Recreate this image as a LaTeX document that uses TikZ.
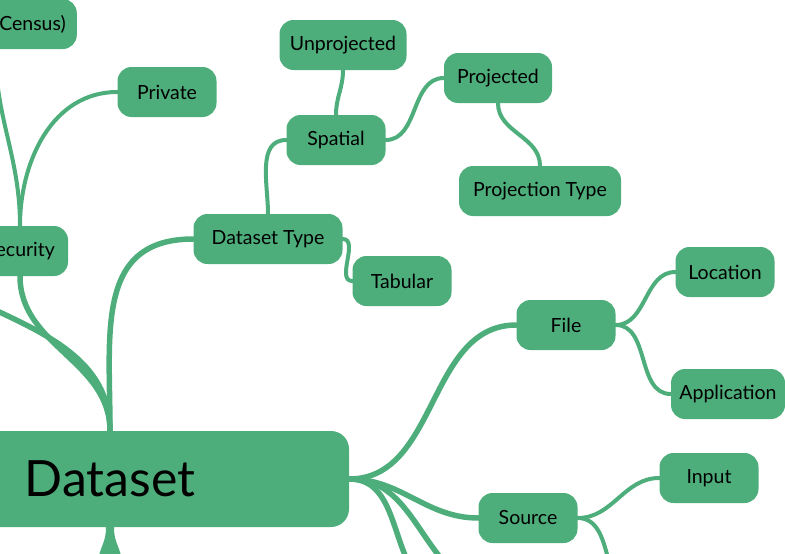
\documentclass[tikz,border=0pt]{standalone}
\usepackage{fontspec}
\setmainfont{Lato}
\usepackage{tikz}
\usetikzlibrary{backgrounds}
\definecolor{mmgreen}{HTML}{4EAE7B}

\begin{document}
\begin{tikzpicture}[
  x=1pt, y=1pt,
  topic/.style={fill=mmgreen, rounded corners=14pt, align=center, inner xsep=8pt,
    minimum width=99pt, minimum height=50pt, text=black, font=\fontsize{19.5}{23}\selectfont},
  root/.style={topic, rounded corners=18pt, minimum width=478pt, minimum height=96pt,
    font=\fontsize{50}{56}\selectfont},
  link/.style={draw=mmgreen, line width=4pt, line cap=round},
  trunk/.style={link, line width=5.5pt}]
\clip (0,0) rectangle (785,-554);
\useasboundingbox (0,0) rectangle (785,-554);
% root
\node[root] (dataset) at (110,-479) {Dataset};
% upper left branch
\node[topic, anchor=east, text width=141pt, align=right, inner xsep=11pt] (census) at (77,-24) {(Census)};
\node[topic] (private) at (167,-92) {Private};
\node[topic, minimum width=96pt] (security) at (20,-251) {Security};
% dataset type branch
\node[topic, minimum width=149pt] (dtype) at (268,-239) {Dataset Type};
\node[topic] (spatial) at (336,-140) {Spatial};
\node[topic, minimum width=127pt] (unproj) at (343,-45) {Unprojected};
\node[topic, minimum width=108pt] (proj) at (498,-78) {Projected};
\node[topic, minimum width=162pt] (projtype) at (540,-191) {Projection Type};
\node[topic] (tabular) at (402,-281) {Tabular};
% file and source branch
\node[topic] (file) at (566,-325) {File};
\node[topic] (location) at (725,-272) {Location};
\node[topic, minimum width=114pt, inner xsep=4pt] (application) at (728,-394) {Application};
\node[topic] (source) at (528,-518) {Source};
\node[topic] (input) at (709,-478) {Input};
% ends that run out of the picture
\coordinate (offleft) at (-20,-303);
\coordinate (below) at (110,-556);
\coordinate (offa) at (408,-562);
\coordinate (offb) at (444,-562);
\coordinate (offc) at (609,-562);
\begin{scope}[on background layer]
\draw[trunk] (dataset.north) to[out=90,in=180, looseness=1.2] (dtype.west);
\draw[trunk] (dataset.north) to[out=90,in=-90] (security.south);
\draw[trunk] (dataset.north) to[out=90,in=-25] (offleft);
\draw[trunk] (dataset.east) to[out=0,in=180] (file.west);
\draw[trunk] (dataset.east) to[out=0,in=180] (source.west);
\draw[trunk] (dataset.east) to[out=0,in=115] (offa);
\draw[trunk] (dataset.east) to[out=0,in=130] (offb);
\fill[mmgreen] ([xshift=-4pt]dataset.south) .. controls +(0,-14) and +(2,10) .. ([xshift=-11pt]below)
  -- ([xshift=11pt]below) .. controls +(-2,10) and +(0,-14) .. ([xshift=4pt]dataset.south) -- cycle;
\draw[link] (security.north) to[out=90,in=180] (private.west);
\draw[link] (security.north) to[out=90,in=-90] (census.south);
\draw[link] (dtype.north) to[out=90,in=180] (spatial.west);
\draw[link] (dtype.east) to[out=0,in=180] (tabular.west);
\draw[link] (spatial.north) to[out=90,in=-90] (unproj.south);
\draw[link] (spatial.east) to[out=0,in=180] (proj.west);
\draw[link] (proj.south) to[out=-90,in=90] (projtype.north);
\draw[link] (file.east) to[out=0,in=180] (location.west);
\draw[link] (file.east) to[out=0,in=180] (application.west);
\draw[link] (source.east) to[out=0,in=180] (input.west);
\draw[link] (source.east) to[out=0,in=105] (offc);
\end{scope}
\end{tikzpicture}
\end{document}
